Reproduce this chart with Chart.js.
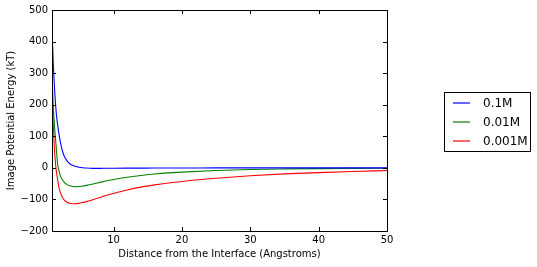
<!DOCTYPE html>
<html>
<head>
<meta charset="utf-8">
<script src="https://cdn.jsdelivr.net/npm/chart.js@4/dist/chart.umd.min.js"></script>
<style>
  html, body { margin: 0; padding: 0; background: #fff; }
  #chart { display: block; }
</style>
</head>
<body>
<canvas id="chart" width="537" height="267"></canvas>
<script>
"use strict";
// distance from the interface (Angstroms)
const distance = [1, 1.1, 1.2, 1.3, 1.4, 1.5, 1.6, 1.7, 1.8, 2, 2.2, 2.5, 2.8, 3.2, 3.6, 4, 4.5,
  5, 5.5, 6, 7, 8, 9, 10, 12, 14, 16, 18, 20, 25, 30, 35, 40, 45, 50];
// image potential energy (kT)
const pot01M = [445, 380, 325, 280, 240, 208, 180, 158, 140, 110, 85, 55, 37, 22, 13, 8, 4,
  2, 0.5, -0.5, -1.5, -1.5, -1.3, -1.2, -1, -0.8, -0.6, -0.5, -0.4, -0.2, -0.1, 0, 0, 0, 0];
const pot001M = [300, 240, 190, 152, 122, 95, 70, 42, 16, -8, -24, -37, -46, -53, -57, -59, -60,
  -59, -57.5, -55.5, -51, -46, -41, -37, -30, -24, -19.5, -16, -13.5, -8.5, -5, -3.3, -2.3, -1.6, -1.2];
const pot0001M = [260, 185, 130, 85, 45, 18, -5, -20, -35, -60, -76, -92, -102, -109, -112, -113.5, -113.5,
  -112, -110, -107, -101, -94, -87, -81, -70, -61, -54, -48, -43, -33, -25, -19, -15, -11.5, -8.5];

const seriesNames = ["0.1M", "0.01M", "0.001M"];
const seriesColors = ["#0000ff", "#008000", "#ff0000"];
const xTicks = [10, 20, 30, 40, 50];
const yTicks = [-200, -100, 0, 100, 200, 300, 400, 500];

const FONT = "'DejaVu Sans', sans-serif";
const fmt = (v) => (v < 0 ? "\u2212" + Math.abs(v) : String(v));

const series = [pot01M, pot001M, pot0001M];
const datasets = series.map((ys, i) => ({
  label: seriesNames[i],
  data: distance.map((x, j) => ({ x, y: ys[j] })),
  borderColor: seriesColors[i],
  borderWidth: 1.1,
  pointRadius: 0,
  cubicInterpolationMode: "monotone",
  fill: false,
}));

// matplotlib-ish frame: box round the plot, ticks pointing inwards on all sides
const frame = {
  id: "frame",
  afterDraw(chart) {
    const { ctx, chartArea: a, scales: { x, y } } = chart;
    ctx.save();
    ctx.strokeStyle = "#000";
    ctx.lineWidth = 1;
    const L = 4;
    ctx.beginPath();
    for (const v of xTicks) {
      const px = Math.round(x.getPixelForValue(v)) + 0.5;
      ctx.moveTo(px, a.bottom); ctx.lineTo(px, a.bottom - L);
      ctx.moveTo(px, a.top); ctx.lineTo(px, a.top + L);
    }
    for (const v of yTicks) {
      const py = Math.round(y.getPixelForValue(v)) + 0.5;
      ctx.moveTo(a.left, py); ctx.lineTo(a.left + L, py);
      ctx.moveTo(a.right, py); ctx.lineTo(a.right - L, py);
    }
    ctx.stroke();
    ctx.strokeRect(Math.round(a.left) + 0.5, Math.round(a.top) + 0.5,
      Math.round(a.right - a.left), Math.round(a.bottom - a.top));

    // legend box off to the right
    ctx.strokeRect(444.5, 92.5, 86, 59);
    ctx.font = "12px " + FONT;
    ctx.textBaseline = "middle";
    ctx.fillStyle = "#000";
    ctx.lineWidth = 1.2;
    seriesNames.forEach((name, i) => {
      const ry = 103 + i * 19;
      ctx.strokeStyle = seriesColors[i];
      ctx.beginPath();
      ctx.moveTo(453, ry); ctx.lineTo(470, ry);
      ctx.stroke();
      ctx.fillText(name, 483, ry + 1);
    });
    ctx.restore();
  },
};

new Chart(document.getElementById("chart"), {
  type: "line",
  data: { datasets },
  plugins: [frame],
  options: {
    responsive: false,
    animation: false,
    layout: { padding: { left: 0, top: 4, right: 150, bottom: 0 } },
    plugins: { legend: { display: false }, tooltip: { enabled: false } },
    scales: {
      x: {
        type: "linear", min: 1, max: 50,
        afterBuildTicks: (s) => { s.ticks = xTicks.map((value) => ({ value })); },
        afterFit: (s) => { s.height = 36; },
        grid: { display: false, drawTicks: false },
        border: { display: false },
        ticks: { color: "#000", font: { family: FONT, size: 10 }, padding: 3,
          maxRotation: 0, callback: (v) => fmt(v) },
        title: { display: true, text: "Distance from the Interface (Angstroms)",
          color: "#000", font: { family: FONT, size: 10 }, padding: { top: 2, bottom: 7 } },
      },
      y: {
        min: -200, max: 500,
        afterBuildTicks: (s) => { s.ticks = yTicks.map((value) => ({ value })); },
        afterFit: (s) => { s.width = 52; },
        grid: { display: false, drawTicks: false },
        border: { display: false },
        ticks: { color: "#000", font: { family: FONT, size: 10 }, padding: 4,
          callback: (v) => fmt(v) },
        title: { display: true, text: "Image Potential Energy (kT)",
          color: "#000", font: { family: FONT, size: 10 }, padding: { top: 5, bottom: 2 } },
      },
    },
  },
});
</script>
</body>
</html>
